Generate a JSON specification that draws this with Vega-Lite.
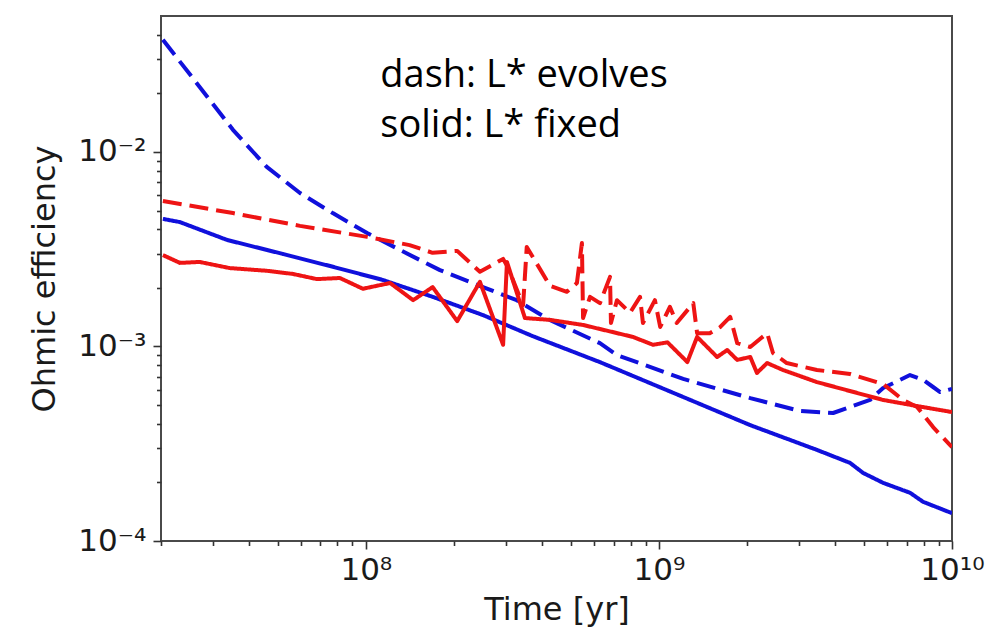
{
  "$schema": "https://vega.github.io/schema/vega-lite/v6.json",
  "width": 791,
  "height": 525,
  "autosize": {"type": "none"},
  "padding": {"left": 161, "top": 16, "right": 49, "bottom": 92},
  "background": "white",
  "config": {
    "view": {"stroke": "#4a4a4a", "strokeWidth": 2},
    "axis": {
      "labelFont": "DejaVu Sans",
      "titleFont": "DejaVu Sans",
      "labelFontSize": 31,
      "titleFontSize": 32,
      "titleFontWeight": "normal",
      "labelColor": "#1a1a1a",
      "titleColor": "#1a1a1a",
      "tickColor": "#333333",
      "tickWidth": 1.6,
      "domain": false,
      "grid": false,
      "labelOverlap": false,
      "labelFlush": false
    }
  },
  "layer": [
    {
      "data": {
        "values": [
          {"t": 2.03e7, "e": 3.77e-2, "run": "A", "Lstar": "evolves"},
          {"t": 2.71e7, "e": 2.16e-2, "run": "A", "Lstar": "evolves"},
          {"t": 3.52e7, "e": 1.30e-2, "run": "A", "Lstar": "evolves"},
          {"t": 4.59e7, "e": 8.38e-3, "run": "A", "Lstar": "evolves"},
          {"t": 5.96e7, "e": 6.15e-3, "run": "A", "Lstar": "evolves"},
          {"t": 7.71e7, "e": 4.85e-3, "run": "A", "Lstar": "evolves"},
          {"t": 1.01e8, "e": 3.83e-3, "run": "A", "Lstar": "evolves"},
          {"t": 1.31e8, "e": 3.13e-3, "run": "A", "Lstar": "evolves"},
          {"t": 1.79e8, "e": 2.47e-3, "run": "A", "Lstar": "evolves"},
          {"t": 2.51e8, "e": 2.02e-3, "run": "A", "Lstar": "evolves"},
          {"t": 3.27e8, "e": 1.73e-3, "run": "A", "Lstar": "evolves"},
          {"t": 4.24e8, "e": 1.37e-3, "run": "A", "Lstar": "evolves"},
          {"t": 6.29e8, "e": 1.04e-3, "run": "A", "Lstar": "evolves"},
          {"t": 7.19e8, "e": 9.04e-4, "run": "A", "Lstar": "evolves"},
          {"t": 1.21e9, "e": 6.81e-4, "run": "A", "Lstar": "evolves"},
          {"t": 2.05e9, "e": 5.43e-4, "run": "A", "Lstar": "evolves"},
          {"t": 3.03e9, "e": 4.66e-4, "run": "A", "Lstar": "evolves"},
          {"t": 3.93e9, "e": 4.55e-4, "run": "A", "Lstar": "evolves"},
          {"t": 4.49e9, "e": 4.89e-4, "run": "A", "Lstar": "evolves"},
          {"t": 5.25e9, "e": 5.31e-4, "run": "A", "Lstar": "evolves"},
          {"t": 5.82e9, "e": 6.12e-4, "run": "A", "Lstar": "evolves"},
          {"t": 6.65e9, "e": 6.73e-4, "run": "A", "Lstar": "evolves"},
          {"t": 7.19e9, "e": 7.13e-4, "run": "A", "Lstar": "evolves"},
          {"t": 7.97e9, "e": 6.73e-4, "run": "A", "Lstar": "evolves"},
          {"t": 8.62e9, "e": 6.19e-4, "run": "A", "Lstar": "evolves"},
          {"t": 9.11e9, "e": 5.83e-4, "run": "A", "Lstar": "evolves"},
          {"t": 1e10, "e": 6.05e-4, "run": "A", "Lstar": "evolves"},

          {"t": 2.03e7, "e": 4.53e-3, "run": "A", "Lstar": "fixed"},
          {"t": 2.32e7, "e": 4.36e-3, "run": "A", "Lstar": "fixed"},
          {"t": 3.36e7, "e": 3.53e-3, "run": "A", "Lstar": "fixed"},
          {"t": 5.21e7, "e": 2.99e-3, "run": "A", "Lstar": "fixed"},
          {"t": 7.71e7, "e": 2.57e-3, "run": "A", "Lstar": "fixed"},
          {"t": 1.14e8, "e": 2.20e-3, "run": "A", "Lstar": "fixed"},
          {"t": 1.69e8, "e": 1.80e-3, "run": "A", "Lstar": "fixed"},
          {"t": 2.51e8, "e": 1.45e-3, "run": "A", "Lstar": "fixed"},
          {"t": 3.71e8, "e": 1.13e-3, "run": "A", "Lstar": "fixed"},
          {"t": 6.29e8, "e": 8.31e-4, "run": "A", "Lstar": "fixed"},
          {"t": 1.21e9, "e": 5.50e-4, "run": "A", "Lstar": "fixed"},
          {"t": 2.05e9, "e": 3.94e-4, "run": "A", "Lstar": "fixed"},
          {"t": 3.46e9, "e": 2.94e-4, "run": "A", "Lstar": "fixed"},
          {"t": 4.49e9, "e": 2.52e-4, "run": "A", "Lstar": "fixed"},
          {"t": 4.97e9, "e": 2.24e-4, "run": "A", "Lstar": "fixed"},
          {"t": 5.82e9, "e": 1.99e-4, "run": "A", "Lstar": "fixed"},
          {"t": 7.19e9, "e": 1.77e-4, "run": "A", "Lstar": "fixed"},
          {"t": 7.97e9, "e": 1.59e-4, "run": "A", "Lstar": "fixed"},
          {"t": 1e10, "e": 1.39e-4, "run": "A", "Lstar": "fixed"},

          {"t": 2.03e7, "e": 2.95e-3, "run": "B", "Lstar": "fixed"},
          {"t": 2.32e7, "e": 2.69e-3, "run": "B", "Lstar": "fixed"},
          {"t": 2.71e7, "e": 2.72e-3, "run": "B", "Lstar": "fixed"},
          {"t": 3.43e7, "e": 2.53e-3, "run": "B", "Lstar": "fixed"},
          {"t": 4.59e7, "e": 2.45e-3, "run": "B", "Lstar": "fixed"},
          {"t": 5.64e7, "e": 2.36e-3, "run": "B", "Lstar": "fixed"},
          {"t": 6.81e7, "e": 2.22e-3, "run": "B", "Lstar": "fixed"},
          {"t": 8.15e7, "e": 2.25e-3, "run": "B", "Lstar": "fixed"},
          {"t": 9.77e7, "e": 1.98e-3, "run": "B", "Lstar": "fixed"},
          {"t": 1.21e8, "e": 2.12e-3, "run": "B", "Lstar": "fixed"},
          {"t": 1.45e8, "e": 1.73e-3, "run": "B", "Lstar": "fixed"},
          {"t": 1.69e8, "e": 2.02e-3, "run": "B", "Lstar": "fixed"},
          {"t": 2.05e8, "e": 1.35e-3, "run": "B", "Lstar": "fixed"},
          {"t": 2.45e8, "e": 2.15e-3, "run": "B", "Lstar": "fixed"},
          {"t": 2.94e8, "e": 1.02e-3, "run": "B", "Lstar": "fixed"},
          {"t": 3.03e8, "e": 2.72e-3, "run": "B", "Lstar": "fixed"},
          {"t": 3.49e8, "e": 1.40e-3, "run": "B", "Lstar": "fixed"},
          {"t": 4.25e8, "e": 1.37e-3, "run": "B", "Lstar": "fixed"},
          {"t": 5.51e8, "e": 1.29e-3, "run": "B", "Lstar": "fixed"},
          {"t": 8.15e8, "e": 1.12e-3, "run": "B", "Lstar": "fixed"},
          {"t": 9.55e8, "e": 1.02e-3, "run": "B", "Lstar": "fixed"},
          {"t": 1.07e9, "e": 1.05e-3, "run": "B", "Lstar": "fixed"},
          {"t": 1.25e9, "e": 8.32e-4, "run": "B", "Lstar": "fixed"},
          {"t": 1.35e9, "e": 1.12e-3, "run": "B", "Lstar": "fixed"},
          {"t": 1.58e9, "e": 8.83e-4, "run": "B", "Lstar": "fixed"},
          {"t": 1.71e9, "e": 9.59e-4, "run": "B", "Lstar": "fixed"},
          {"t": 1.85e9, "e": 8.53e-4, "run": "B", "Lstar": "fixed"},
          {"t": 2.05e9, "e": 8.83e-4, "run": "B", "Lstar": "fixed"},
          {"t": 2.16e9, "e": 7.31e-4, "run": "B", "Lstar": "fixed"},
          {"t": 2.34e9, "e": 8.22e-4, "run": "B", "Lstar": "fixed"},
          {"t": 2.65e9, "e": 7.57e-4, "run": "B", "Lstar": "fixed"},
          {"t": 3.46e9, "e": 6.56e-4, "run": "B", "Lstar": "fixed"},
          {"t": 4.49e9, "e": 5.90e-4, "run": "B", "Lstar": "fixed"},
          {"t": 5.82e9, "e": 5.31e-4, "run": "B", "Lstar": "fixed"},
          {"t": 7.60e9, "e": 4.94e-4, "run": "B", "Lstar": "fixed"},
          {"t": 1e10, "e": 4.60e-4, "run": "B", "Lstar": "fixed"},

          {"t": 2.03e7, "e": 5.60e-3, "run": "B", "Lstar": "evolves"},
          {"t": 3.52e7, "e": 4.85e-3, "run": "B", "Lstar": "evolves"},
          {"t": 5.96e7, "e": 4.17e-3, "run": "B", "Lstar": "evolves"},
          {"t": 1.01e8, "e": 3.66e-3, "run": "B", "Lstar": "evolves"},
          {"t": 1.41e8, "e": 3.32e-3, "run": "B", "Lstar": "evolves"},
          {"t": 1.69e8, "e": 3.03e-3, "run": "B", "Lstar": "evolves"},
          {"t": 2.05e8, "e": 3.10e-3, "run": "B", "Lstar": "evolves"},
          {"t": 2.45e8, "e": 2.42e-3, "run": "B", "Lstar": "evolves"},
          {"t": 2.94e8, "e": 2.82e-3, "run": "B", "Lstar": "evolves"},
          {"t": 3.06e8, "e": 2.53e-3, "run": "B", "Lstar": "evolves"},
          {"t": 3.44e8, "e": 1.63e-3, "run": "B", "Lstar": "evolves"},
          {"t": 3.54e8, "e": 3.25e-3, "run": "B", "Lstar": "evolves"},
          {"t": 4.25e8, "e": 2.05e-3, "run": "B", "Lstar": "evolves"},
          {"t": 4.85e8, "e": 1.91e-3, "run": "B", "Lstar": "evolves"},
          {"t": 5.25e8, "e": 2.12e-3, "run": "B", "Lstar": "evolves"},
          {"t": 5.46e8, "e": 3.40e-3, "run": "B", "Lstar": "evolves"},
          {"t": 5.51e8, "e": 1.40e-3, "run": "B", "Lstar": "evolves"},
          {"t": 5.82e8, "e": 1.80e-3, "run": "B", "Lstar": "evolves"},
          {"t": 6.29e8, "e": 1.67e-3, "run": "B", "Lstar": "evolves"},
          {"t": 6.81e8, "e": 2.28e-3, "run": "B", "Lstar": "evolves"},
          {"t": 6.86e8, "e": 1.32e-3, "run": "B", "Lstar": "evolves"},
          {"t": 7.19e8, "e": 1.73e-3, "run": "B", "Lstar": "evolves"},
          {"t": 7.97e8, "e": 1.49e-3, "run": "B", "Lstar": "evolves"},
          {"t": 8.62e8, "e": 1.80e-3, "run": "B", "Lstar": "evolves"},
          {"t": 8.82e8, "e": 1.32e-3, "run": "B", "Lstar": "evolves"},
          {"t": 9.69e8, "e": 1.73e-3, "run": "B", "Lstar": "evolves"},
          {"t": 1.01e9, "e": 1.26e-3, "run": "B", "Lstar": "evolves"},
          {"t": 1.09e9, "e": 1.60e-3, "run": "B", "Lstar": "evolves"},
          {"t": 1.15e9, "e": 1.32e-3, "run": "B", "Lstar": "evolves"},
          {"t": 1.31e9, "e": 1.67e-3, "run": "B", "Lstar": "evolves"},
          {"t": 1.35e9, "e": 1.17e-3, "run": "B", "Lstar": "evolves"},
          {"t": 1.49e9, "e": 1.17e-3, "run": "B", "Lstar": "evolves"},
          {"t": 1.62e9, "e": 1.26e-3, "run": "B", "Lstar": "evolves"},
          {"t": 1.75e9, "e": 1.42e-3, "run": "B", "Lstar": "evolves"},
          {"t": 1.85e9, "e": 1.04e-3, "run": "B", "Lstar": "evolves"},
          {"t": 2.05e9, "e": 9.94e-4, "run": "B", "Lstar": "evolves"},
          {"t": 2.34e9, "e": 1.17e-3, "run": "B", "Lstar": "evolves"},
          {"t": 2.45e9, "e": 9.26e-4, "run": "B", "Lstar": "evolves"},
          {"t": 2.73e9, "e": 8.22e-4, "run": "B", "Lstar": "evolves"},
          {"t": 3.46e9, "e": 7.57e-4, "run": "B", "Lstar": "evolves"},
          {"t": 4.49e9, "e": 7.22e-4, "run": "B", "Lstar": "evolves"},
          {"t": 5.82e9, "e": 6.41e-4, "run": "B", "Lstar": "evolves"},
          {"t": 6.81e9, "e": 5.31e-4, "run": "B", "Lstar": "evolves"},
          {"t": 7.60e9, "e": 4.89e-4, "run": "B", "Lstar": "evolves"},
          {"t": 8.62e9, "e": 3.85e-4, "run": "B", "Lstar": "evolves"},
          {"t": 1e10, "e": 3.04e-4, "run": "B", "Lstar": "evolves"}
        ]
      },
      "mark": {"type": "line", "strokeWidth": 4, "strokeJoin": "round", "clip": true},
      "encoding": {
        "x": {
          "field": "t",
          "type": "quantitative",
          "scale": {"type": "log", "domain": [2e7, 1e10], "nice": false},
          "axis": {
            "title": "Time [yr]",
            "titlePadding": 9,
            "labelPadding": 6,
            "values": [2e7, 3e7, 4e7, 5e7, 6e7, 7e7, 8e7, 9e7, 1e8, 2e8, 3e8, 4e8, 5e8, 6e8, 7e8, 8e8, 9e8, 1e9, 2e9, 3e9, 4e9, 5e9, 6e9, 7e9, 8e9, 9e9, 1e10],
            "labelExpr": "datum.value == 1e8 ? '10⁸' : datum.value == 1e9 ? '10⁹' : datum.value == 1e10 ? '10¹⁰' : ''",
            "tickSize": {"condition": {"test": "datum.value == 1e8 || datum.value == 1e9 || datum.value == 1e10", "value": 8}, "value": 4.5}
          }
        },
        "y": {
          "field": "e",
          "type": "quantitative",
          "scale": {"type": "log", "domain": [1e-4, 0.05], "nice": false},
          "axis": {
            "title": "Ohmic efficiency",
            "titlePadding": 16,
            "labelPadding": 7,
            "values": [1e-4, 2e-4, 3e-4, 4e-4, 5e-4, 6e-4, 7e-4, 8e-4, 9e-4, 1e-3, 2e-3, 3e-3, 4e-3, 5e-3, 6e-3, 7e-3, 8e-3, 9e-3, 1e-2, 2e-2, 3e-2, 4e-2],
            "labelExpr": "datum.value == 1e-2 ? '10⁻²' : datum.value == 1e-3 ? '10⁻³' : datum.value == 1e-4 ? '10⁻⁴' : ''",
            "tickSize": {"condition": {"test": "datum.value == 1e-2 || datum.value == 1e-3 || datum.value == 1e-4", "value": 8}, "value": 4.5}
          }
        },
        "color": {
          "field": "run",
          "type": "nominal",
          "scale": {"domain": ["A", "B"], "range": ["#1010dc", "#ee1414"]},
          "legend": null
        },
        "strokeDash": {
          "field": "Lstar",
          "type": "nominal",
          "scale": {"domain": ["evolves", "fixed"], "range": [[19, 8], [1, 0]]},
          "legend": null
        }
      }
    },
    {
      "data": {
        "values": [
          {"t": 1.12e8, "e": 0.0216, "label": "dash: L* evolves"},
          {"t": 1.12e8, "e": 0.01194, "label": "solid: L* fixed"}
        ]
      },
      "mark": {"type": "text", "font": "Open Sans", "fontSize": 38, "align": "left", "baseline": "alphabetic", "color": "#000000"},
      "encoding": {
        "x": {"field": "t", "type": "quantitative"},
        "y": {"field": "e", "type": "quantitative"},
        "text": {"field": "label"}
      }
    }
  ]
}
